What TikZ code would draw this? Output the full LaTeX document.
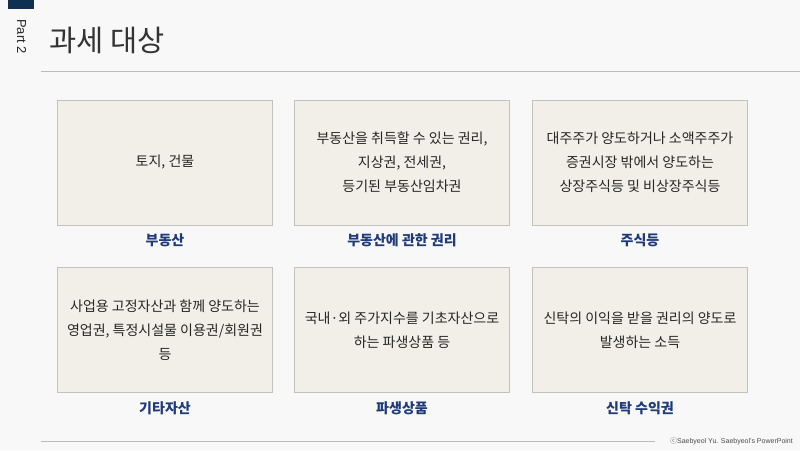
\documentclass[tikz,border=0pt]{standalone}
\usepackage{fontspec}
\setmainfont{Liberation Sans}
\newfontfamily\kr{Noto Sans CJK KR}
\definecolor{bgc}{HTML}{F8F8F8}
\definecolor{boxfill}{HTML}{F2EFE8}
\definecolor{boxline}{HTML}{C4C1BA}
\definecolor{navy}{HTML}{1F3B7A}
\definecolor{darknavy}{HTML}{0E3152}
\definecolor{titlec}{HTML}{333333}
\definecolor{rulec}{HTML}{BBBBBB}
\tikzset{
  itembox/.style={draw=boxline, line width=1pt, fill=boxfill, minimum width=215pt, minimum height=125pt, inner sep=0pt, anchor=north west},
  itemtext/.style={font=\kr\fontsize{14}{24}\selectfont, text=black!85, align=center},
  itemlabel/.style={font=\kr\bfseries\fontsize{14}{16}\selectfont, text=navy},
}
\begin{document}
\begin{tikzpicture}[x=1pt,y=-1pt]
\fill[bgc] (0,0) rectangle (800,450);
\useasboundingbox (0,0) rectangle (800,450);
\fill[darknavy] (8,0) rectangle (34,8.5);
\node[rotate=-90, font=\fontsize{13}{14}\selectfont, text=black!85] (part) at (21.5,36.5) {Part 2};
\node[anchor=west, font=\kr\fontsize{29.5}{32}\selectfont, text=titlec, inner sep=0pt] (title) at (49,40) {과세 대상};
\draw[rulec, line width=0.8pt] (41,71) -- (800,71);
\draw[rulec, line width=0.8pt] (41,441) -- (655,441);
\node[anchor=east, font=\fontsize{7}{8}\selectfont, text=black!70, inner sep=0pt] (copy) at (793,441) {{\kr ⓒ}Saebyeol Yu. Saebyeol's PowerPoint};
% row 1
\node[itembox] (b1) at (57,99.5) {};
\node[itembox] (b2) at (294,99.5) {};
\node[itembox] (b3) at (532,99.5) {};
% row 2
\node[itembox] (b4) at (57,267) {};
\node[itembox] (b5) at (294,267) {};
\node[itembox] (b6) at (532,267) {};
\node[itemtext] (t1) at (b1.center) {토지, 건물};
\node[itemtext] (t2) at (b2.center) {부동산을 취득할 수 있는 권리,\\지상권, 전세권,\\등기된 부동산임차권};
\node[itemtext] (t3) at (b3.center) {대주주가 양도하거나 소액주주가\\증권시장 밖에서 양도하는\\상장주식등 및 비상장주식등};
\node[itemtext] (t4) at (b4.center) {사업용 고정자산과 함께 양도하는\\영업권, 특정시설물 이용권/회원권\\등};
\node[itemtext] (t5) at (b5.center) {국내·외 주가지수를 기초자산으로\\하는 파생상품 등};
\node[itemtext] (t6) at (b6.center) {신탁의 이익을 받을 권리의 양도로\\발생하는 소득};
\node[itemlabel] (l1) at ([yshift=-15pt]b1.south) {부동산};
\node[itemlabel] (l2) at ([yshift=-15pt]b2.south) {부동산에 관한 권리};
\node[itemlabel] (l3) at ([yshift=-15pt]b3.south) {주식등};
\node[itemlabel] (l4) at ([yshift=-15pt]b4.south) {기타자산};
\node[itemlabel] (l5) at ([yshift=-15pt]b5.south) {파생상품};
\node[itemlabel] (l6) at ([yshift=-15pt]b6.south) {신탁 수익권};
\end{tikzpicture}
\end{document}
